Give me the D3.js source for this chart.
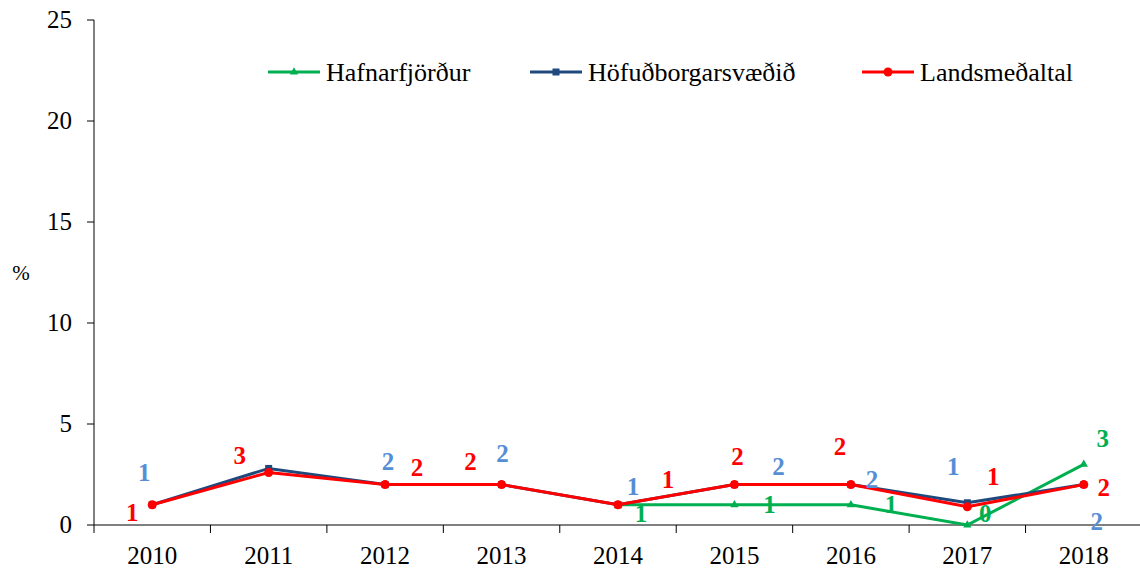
<!DOCTYPE html>
<html><head><meta charset="utf-8">
<script src="https://cdn.jsdelivr.net/npm/d3@7"></script>
<style>body{margin:0;background:#fff}svg{display:block}</style>
</head><body>
<svg id="c" width="1140" height="572"></svg>
<script>
const years = ["2010","2011","2012","2013","2014","2015","2016","2017","2018"];
const hafnarfjordur = [null,null,null,null,1,1,1,0,3];
const hofudborg = [1.0,2.8,2.0,2.0,1.0,2.0,2.0,1.1,2.0];
const landsmedaltal = [1.0,2.6,2.0,2.0,1.0,2.0,2.0,0.9,2.0];
const hafnLabels = [null,null,null,null,"1","1","1","0","3"];
const hofLabels = ["1",null,"2","2","1","2","2","1","2"];
const landLabels = ["1","3","2","2","1","2","2","1","2"];
const yTicks = [0,5,10,15,20,25];
const seriesNames = ["Hafnarfjörður","Höfuðborgarsvæðið","Landsmeðaltal"];

// label offsets (pixels) relative to the point
const hafnOff = [null,null,null,null,[23,9],[35,0],[40,0],[18,-11],[19,-26]];
const hofOff = [[-8,-32],null,[3,-23],[1,-31],[15,-18],[44,-18],[21,-5],[-14,-36],[13,37]];
const landOff = [[-20,8],[-29,-17],[32,-17],[-31,-23],[50,-25],[3,-28],[-11,-38],[26,-30],[20,3]];

const FONT = "Liberation Serif";
const svg = d3.select("#c");
const mL = 94, mR = 1142, mT = 20, mB = 525;
const x = d3.scaleBand().domain(years).range([mL, mR]);
const y = d3.scaleLinear().domain([0,25]).range([mB, mT]);
const cx = d => x(d) + x.bandwidth()/2;

// y axis
svg.append("line").attr("x1",mL).attr("x2",mL).attr("y1",mT).attr("y2",mB).attr("stroke","#000").attr("stroke-width",1);
yTicks.forEach(t=>{
  svg.append("line").attr("x1",mL-7).attr("x2",mL).attr("y1",y(t)).attr("y2",y(t)).attr("stroke","#000");
  svg.append("text").attr("font-family",FONT).attr("x",mL-22).attr("y",y(t)).attr("dy","0.33em").attr("text-anchor","end").attr("font-size",25).text(t);
});
svg.append("text").attr("font-family",FONT).attr("x",21).attr("y",273).attr("dy","0.33em").attr("text-anchor","middle").attr("font-size",21).text("%");

// x axis
svg.append("line").attr("x1",mL).attr("x2",1140).attr("y1",mB).attr("y2",mB).attr("stroke","#000");
years.forEach((yr,i)=>{
  const bx = x(yr);
  svg.append("line").attr("x1",bx).attr("x2",bx).attr("y1",mB).attr("y2",mB+8).attr("stroke","#000");
  svg.append("text").attr("font-family",FONT).attr("x",cx(yr)).attr("y",564).attr("text-anchor","middle").attr("font-size",25).text(yr);
});

const colors = ["#00B050","#1F497D","#FF0000"];
const labelColors = ["#00B050","#558ED5","#FF0000"];
const data = [hafnarfjordur,hofudborg,landsmedaltal];
const labels = [hafnLabels,hofLabels,landLabels];
const offs = [hafnOff,hofOff,landOff];

const line = d3.line().defined(d=>d.v!=null).x(d=>cx(d.yr)).y(d=>y(d.v));
data.forEach((arr,s)=>{
  const pts = years.map((yr,i)=>({yr,v:arr[i]}));
  svg.append("path").attr("d",line(pts)).attr("fill","none").attr("stroke",colors[s]).attr("stroke-width",3);
  pts.filter(p=>p.v!=null).forEach(p=>{
    const px=cx(p.yr), py=y(p.v);
    if(s===0) svg.append("path").attr("d",d3.symbol(d3.symbolTriangle,30)()).attr("transform",`translate(${px},${py})`).attr("fill",colors[s]);
    else if(s===1) svg.append("rect").attr("x",px-3.5).attr("y",py-3.5).attr("width",7).attr("height",7).attr("fill",colors[s]);
    else svg.append("circle").attr("cx",px).attr("cy",py).attr("r",4.5).attr("fill",colors[s]);
  });
});

// data labels
data.forEach((arr,s)=>{
  years.forEach((yr,i)=>{
    const lab = labels[s][i], o = offs[s][i];
    if(lab==null||o==null||arr[i]==null) return;
    svg.append("text").attr("font-family",FONT).attr("x",cx(yr)+o[0]).attr("y",y(arr[i])+o[1]).attr("dy","0.33em")
      .attr("text-anchor","middle").attr("font-size",25).attr("font-weight","bold").attr("fill",labelColors[s]).text(lab);
  });
});

// legend
const legX = [268,530,862];
seriesNames.forEach((n,s)=>{
  const lx = legX[s], ly = 72;
  svg.append("line").attr("x1",lx).attr("x2",lx+52).attr("y1",ly).attr("y2",ly).attr("stroke",colors[s]).attr("stroke-width",3);
  const mx = lx+26;
  if(s===0) svg.append("path").attr("d",d3.symbol(d3.symbolTriangle,30)()).attr("transform",`translate(${mx},${ly})`).attr("fill",colors[s]);
  else if(s===1) svg.append("rect").attr("x",mx-3.5).attr("y",ly-3.5).attr("width",7).attr("height",7).attr("fill",colors[s]);
  else svg.append("circle").attr("cx",mx).attr("cy",ly).attr("r",4.5).attr("fill",colors[s]);
  svg.append("text").attr("font-family",FONT).attr("x",lx+58).attr("y",ly).attr("dy","0.33em").attr("font-size",26).text(n);
});
</script>
</body></html>
